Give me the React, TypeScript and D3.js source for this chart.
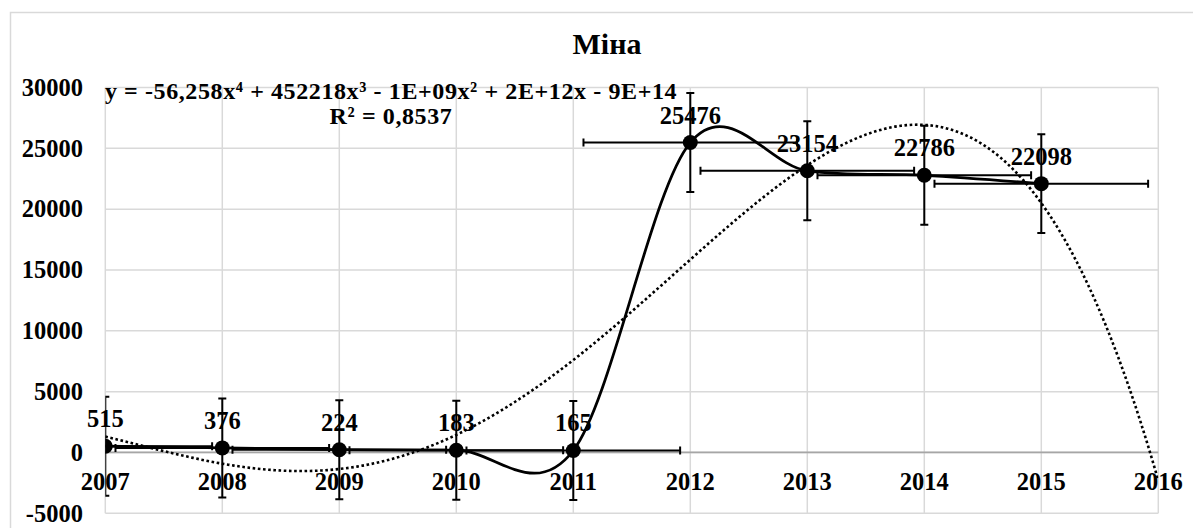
// @ts-nocheck
import * as d3 from "d3"
import { useEffect, useRef } from "react"
import * as React from "react"

const title = "Міна"
const years = [2007, 2008, 2009, 2010, 2011, 2012, 2013, 2014, 2015]
const values = [515, 376, 224, 183, 165, 25476, 23154, 22786, 22098]
const xTicks = [2007, 2008, 2009, 2010, 2011, 2012, 2013, 2014, 2015, 2016]
const yTicks = [-5000, 0, 5000, 10000, 15000, 20000, 25000, 30000]
// error bars (standard error)
const yErr = 4067
const xErr = 0.913
const equationLines = [
  "y = -56,258x⁴ + 452218x³ - 1E+09x² + 2E+12x - 9E+14",
  "R² = 0,8537",
]

const FONT = "Liberation Serif, DejaVu Serif, serif"

// least squares polynomial, like Excel's trendline
function polyFit(xs: number[], ys: number[], order: number) {
  const n = order + 1
  const A = Array.from({ length: n }, () => new Array(n + 1).fill(0))
  xs.forEach((x, k) => {
    for (let i = 0; i < n; i++) {
      for (let j = 0; j < n; j++) A[i][j] += Math.pow(x, i + j)
      A[i][n] += Math.pow(x, i) * ys[k]
    }
  })
  for (let c = 0; c < n; c++) {
    let p = c
    for (let r = c + 1; r < n; r++) if (Math.abs(A[r][c]) > Math.abs(A[p][c])) p = r
    ;[A[c], A[p]] = [A[p], A[c]]
    for (let r = 0; r < n; r++) {
      if (r === c) continue
      const f = A[r][c] / A[c][c]
      for (let j = c; j <= n; j++) A[r][j] -= f * A[c][j]
    }
  }
  const coef = A.map((row, i) => row[n] / row[i])
  return (x: number) => coef.reduce((s, a, i) => s + a * Math.pow(x, i), 0)
}

function buildSVG() {
  const width = 1193
  const height = 528
  const left = 105.3, right = 1158.3, top = 87.5, bottom = 513.3

  const x = d3.scaleLinear().domain([2007, 2016]).range([left, right])
  const y = d3.scaleLinear().domain([-5000, 30000]).range([bottom, top])

  const svg = d3.create("svg")
    .attr("width", width)
    .attr("height", height)
    .style("display", "block")
    .style("background", "#fff")

  // chart border (only top/left visible)
  svg.append("rect")
    .attr("x", 10.5).attr("y", 12.5)
    .attr("width", 1300).attr("height", 700)
    .attr("fill", "none")
    .attr("stroke", "#d9d9d9")
    .attr("stroke-width", 1.5)

  const txt = (g, size) => g.attr("font-family", FONT).attr("font-weight", "bold").attr("font-size", size).attr("fill", "#000")

  txt(svg.append("text"), 30)
    .attr("x", 607).attr("y", 54)
    .attr("text-anchor", "middle")
    .text(title)

  svg.append("clipPath").attr("id", "plot-clip")
    .append("rect")
    .attr("x", left).attr("y", top)
    .attr("width", right - left).attr("height", bottom - top)

  const grid = svg.append("g").attr("stroke", "#d9d9d9").attr("stroke-width", 1.5)
  grid.selectAll("line.h")
    .data(yTicks)
    .join("line")
    .attr("x1", left).attr("x2", right)
    .attr("y1", d => y(d)).attr("y2", d => y(d))
  grid.selectAll("line.v")
    .data(xTicks)
    .join("line")
    .attr("class", "v")
    .attr("x1", d => x(d)).attr("x2", d => x(d))
    .attr("y1", top).attr("y2", bottom)

  svg.append("line")
    .attr("x1", left).attr("x2", right)
    .attr("y1", y(0)).attr("y2", y(0))
    .attr("stroke", "#a6a6a6")
    .attr("stroke-width", 1.75)

  txt(svg.append("g"), 24.5)
    .selectAll("text")
    .data(yTicks)
    .join("text")
    .attr("x", 83)
    .attr("y", d => y(d))
    .attr("dy", "0.34em")
    .attr("text-anchor", "end")
    .text(d => d)

  txt(svg.append("g"), 24.5)
    .selectAll("text")
    .data(xTicks)
    .join("text")
    .attr("x", d => x(d))
    .attr("y", 490)
    .attr("text-anchor", "middle")
    .text(d => d)

  const plot = svg.append("g").attr("clip-path", "url(#plot-clip)")

  // polynomial trendline, order 4, forecast forward 1 period
  const fit = polyFit(years.map(d => d - 2007), values, 4)
  const trendX = d3.range(0, 9.0001, 0.05)
  plot.append("path")
    .attr("d", d3.line().x(d => x(2007 + d)).y(d => y(fit(d)))(trendX))
    .attr("fill", "none")
    .attr("stroke", "#000")
    .attr("stroke-width", 2.6)
    .attr("stroke-dasharray", "2.6 2.6")

  const pts = years.map((yr, i) => [yr, values[i]])
  plot.append("path")
    .attr("d", d3.line().curve(d3.curveCardinal.tension(0)).x(d => x(d[0])).y(d => y(d[1]))(pts))
    .attr("fill", "none")
    .attr("stroke", "#000")
    .attr("stroke-width", 2.75)

  const cap = 4
  const bars = plot.append("g").attr("stroke", "#000").attr("stroke-width", 2).attr("fill", "none")
  pts.forEach(([yr, v]) => {
    const cx = x(yr), cy = y(v)
    const y0 = y(v - yErr), y1 = y(v + yErr)
    const x0 = x(yr - xErr), x1 = x(yr + xErr)
    bars.append("path").attr("d",
      `M${cx},${y0}V${y1}M${cx - cap},${y0}H${cx + cap}M${cx - cap},${y1}H${cx + cap}` +
      `M${x0},${cy}H${x1}M${x0},${cy - cap}V${cy + cap}M${x1},${cy - cap}V${cy + cap}`)
  })

  plot.append("g")
    .selectAll("circle")
    .data(pts)
    .join("circle")
    .attr("cx", d => x(d[0]))
    .attr("cy", d => y(d[1]))
    .attr("r", 7.5)
    .attr("fill", "#000")

  txt(svg.append("g"), 24.5)
    .selectAll("text")
    .data(pts)
    .join("text")
    .attr("x", d => x(d[0]))
    .attr("y", d => y(d[1]) - 19)
    .attr("text-anchor", "middle")
    .text(d => d[1])

  txt(svg.append("text"), 24)
    .attr("text-anchor", "middle")
    .attr("letter-spacing", 0.6)
    .selectAll("tspan")
    .data(equationLines)
    .join("tspan")
    .attr("x", 391)
    .attr("y", (d, i) => 99 + i * 25)
    .text(d => d)

  return svg
}

export default function App() {
  const ref = useRef<HTMLDivElement>(null)
  useEffect(() => {
    document.body.style.margin = "0"
    const svg = buildSVG()
    const el = ref.current
    while (el.hasChildNodes()) el.removeChild(el.lastChild)
    el.append(svg.node())
  }, [])
  return <div ref={ref} />
}
